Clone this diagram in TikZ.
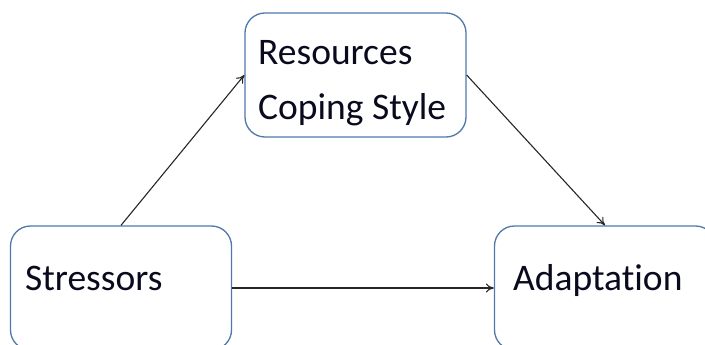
\documentclass[tikz,border=0pt]{standalone}
\usepackage{fontspec}
\setmainfont[Ligatures={NoCommon,NoRare}]{Carlito}
\usetikzlibrary{arrows.meta}
\definecolor{boxline}{RGB}{80,120,170}
\definecolor{txt}{RGB}{10,10,30}
\tikzset{
  box/.style={draw=boxline, line width=1.3pt, rounded corners=20pt, minimum width=221pt, minimum height=124pt, inner sep=0pt},
  lbl/.style={anchor=base west, inner sep=0pt, font=\fontsize{37.5}{44}\selectfont, text=txt},
  conn/.style={draw=black!85, line width=1.1pt, -{To[length=8pt,width=9pt]}}
}
\begin{document}
\begin{tikzpicture}[x=1pt,y=-1pt]
\useasboundingbox (0,0) rectangle (705,345);
\clip (0,0) rectangle (705,345);
\node[box] (r) at (355.5,75) {};
\node[box] (s) at (121,288) {};
\node[box] (a) at (605,288) {};
\node[lbl] (rt1) at (258,65) {Resources};
\node[lbl] (rt2) at (258,120) {Coping Style};
\node[lbl] (st) at (25,290) {Stressors};
\node[lbl] (at) at (513,290) {Adaptation};
\draw[conn] (s.north) -- (r.west);
\draw[conn] (r.east) -- (a.north);
\draw[conn] (s.east) -- (a.west);
\end{tikzpicture}
\end{document}
